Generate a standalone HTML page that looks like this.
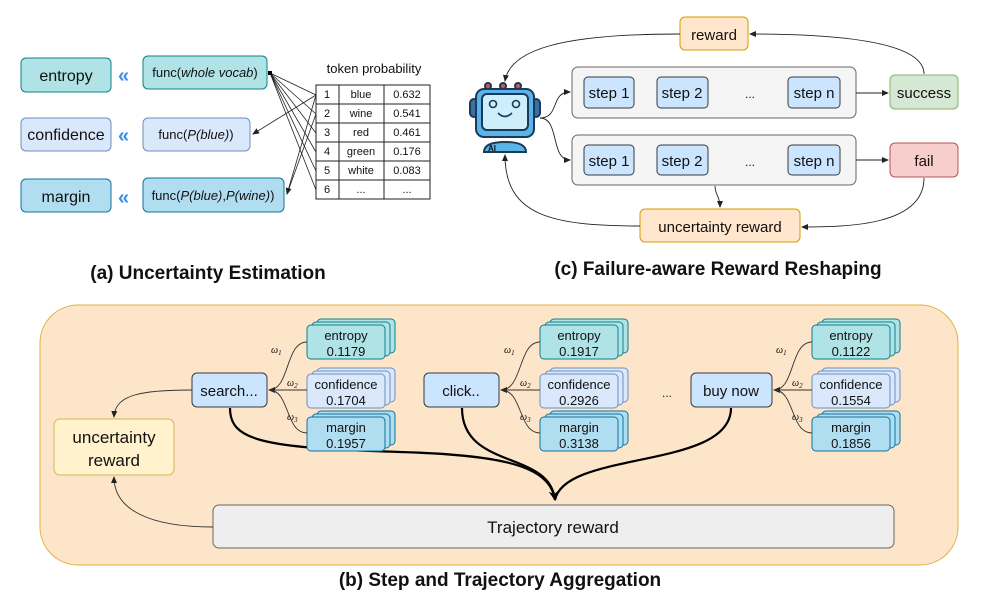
<!DOCTYPE html>
<html><head><meta charset="utf-8"><style>
html,body{margin:0;padding:0;background:#fff}
svg{display:block}
text{font-family:"Liberation Sans",sans-serif;fill:#111}
</style></head><body>
<svg width="996" height="616" viewBox="0 0 996 616" xmlns="http://www.w3.org/2000/svg">
<defs>
<marker id="a" markerWidth="8" markerHeight="8" refX="6" refY="3" orient="auto" markerUnits="userSpaceOnUse"><path d="M0,0 L7,3 L0,6 Z" fill="#222"/></marker>
<marker id="ab" markerWidth="14" markerHeight="14" refX="9" refY="5" orient="auto" markerUnits="userSpaceOnUse"><path d="M0,0 L10,5 L0,10 L3,5 Z" fill="#000"/></marker>
</defs>

<!-- (a) -->
<g font-size="16">
<rect x="21" y="58" width="90" height="34" rx="5" fill="#b0e3e6" stroke="#0e8088"/>
<text x="66" y="81" text-anchor="middle">entropy</text>
<rect x="21" y="118" width="90" height="33" rx="5" fill="#dae8fc" stroke="#6c8ebf"/>
<text x="66" y="140" text-anchor="middle">confidence</text>
<rect x="21" y="179" width="90" height="33" rx="5" fill="#b1ddf0" stroke="#10739e"/>
<text x="66" y="202" text-anchor="middle">margin</text>
</g>
<g font-size="20" font-weight="bold">
<text x="118" y="82" style="fill:#3a8fe8">«</text>
<text x="118" y="142" style="fill:#3a8fe8">«</text>
<text x="118" y="204" style="fill:#3a8fe8">«</text>
</g>
<g font-size="13">
<rect x="143" y="56" width="124" height="33" rx="5" fill="#b0e3e6" stroke="#0e8088"/>
<text x="205" y="77" text-anchor="middle">func(<tspan font-style="italic">whole vocab</tspan>)</text>
<rect x="143" y="118" width="107" height="33" rx="5" fill="#dae8fc" stroke="#6c8ebf"/>
<text x="196" y="139" text-anchor="middle">func(<tspan font-style="italic">P(blue)</tspan>)</text>
<rect x="143" y="178" width="141" height="34" rx="5" fill="#b1ddf0" stroke="#10739e"/>
<text x="213" y="200" text-anchor="middle">func(<tspan font-style="italic">P(blue)</tspan>,<tspan font-style="italic">P(wine)</tspan>)</text>
</g>
<text x="374" y="73" font-size="13" text-anchor="middle">token probability</text>
<g stroke="#222" stroke-width="1" fill="none">
<rect x="316" y="85" width="114" height="114" fill="#fff"/>
<line x1="339" y1="85" x2="339" y2="199"/><line x1="384" y1="85" x2="384" y2="199"/>
<line x1="316" y1="104" x2="430" y2="104"/><line x1="316" y1="123" x2="430" y2="123"/>
<line x1="316" y1="142" x2="430" y2="142"/><line x1="316" y1="161" x2="430" y2="161"/>
<line x1="316" y1="180" x2="430" y2="180"/>
</g>
<g font-size="11" text-anchor="middle">
<text x="327" y="98">1</text><text x="361" y="98">blue</text><text x="407" y="98">0.632</text>
<text x="327" y="117">2</text><text x="361" y="117">wine</text><text x="407" y="117">0.541</text>
<text x="327" y="136">3</text><text x="361" y="136">red</text><text x="407" y="136">0.461</text>
<text x="327" y="155">4</text><text x="361" y="155">green</text><text x="407" y="155">0.176</text>
<text x="327" y="174">5</text><text x="361" y="174">white</text><text x="407" y="174">0.083</text>
<text x="327" y="193">6</text><text x="361" y="193">...</text><text x="407" y="193">...</text>
</g>
<g stroke="#222" stroke-width="0.8" fill="none">
<line x1="270" y1="73" x2="316" y2="95"/><line x1="270" y1="73" x2="316" y2="114"/>
<line x1="270" y1="73" x2="316" y2="133"/><line x1="270" y1="73" x2="316" y2="152"/>
<line x1="270" y1="73" x2="316" y2="171"/><line x1="270" y1="73" x2="316" y2="190"/>
<line x1="316" y1="95" x2="253" y2="134" marker-end="url(#a)"/>
<line x1="316" y1="95" x2="287" y2="194" marker-end="url(#a)"/>
<line x1="316" y1="114" x2="287" y2="194"/>
</g>
<rect x="268" y="71" width="4" height="4" fill="#000"/>
<text x="208" y="279" font-size="19" font-weight="bold" text-anchor="middle">(a) Uncertainty Estimation</text>

<!-- (c) -->
<rect x="680" y="17" width="68" height="33" rx="5" fill="#ffe6cc" stroke="#d79b00"/>
<text x="714" y="40" font-size="15" text-anchor="middle">reward</text>
<rect x="572" y="67" width="284" height="51" rx="6" fill="#f5f5f5" stroke="#666"/>
<rect x="572" y="135" width="284" height="50" rx="6" fill="#f5f5f5" stroke="#666"/>
<g font-size="15" text-anchor="middle">
<rect x="584" y="77" width="50" height="31" rx="4" fill="#cce5ff" stroke="#36393d"/><text x="609" y="98">step 1</text>
<rect x="657" y="77" width="51" height="31" rx="4" fill="#cce5ff" stroke="#36393d"/><text x="682" y="98">step 2</text>
<text x="750" y="98" font-size="12">...</text>
<rect x="788" y="77" width="52" height="31" rx="4" fill="#cce5ff" stroke="#36393d"/><text x="814" y="98">step n</text>
<rect x="584" y="145" width="50" height="30" rx="4" fill="#cce5ff" stroke="#36393d"/><text x="609" y="166">step 1</text>
<rect x="657" y="145" width="51" height="30" rx="4" fill="#cce5ff" stroke="#36393d"/><text x="682" y="166">step 2</text>
<text x="750" y="166" font-size="12">...</text>
<rect x="788" y="145" width="52" height="30" rx="4" fill="#cce5ff" stroke="#36393d"/><text x="814" y="166">step n</text>
<rect x="890" y="75" width="68" height="34" rx="5" fill="#d5e8d4" stroke="#82b366"/><text x="924" y="98">success</text>
<rect x="890" y="143" width="68" height="34" rx="5" fill="#f8cecc" stroke="#b85450"/><text x="924" y="166">fail</text>
<rect x="640" y="209" width="160" height="33" rx="5" fill="#ffe6cc" stroke="#d79b00"/><text x="720" y="232">uncertainty reward</text>
</g>
<!-- robot -->
<g stroke="#1a3a5a" stroke-width="2">
<circle cx="488" cy="86" r="3" fill="#e05050"/><circle cx="503" cy="86" r="3" fill="#e05050"/><circle cx="518" cy="86" r="3" fill="#e05050"/>
<rect x="470" y="99" width="8" height="18" rx="4" fill="#3b6fa8"/><rect x="532" y="99" width="8" height="18" rx="4" fill="#3b6fa8"/>
<rect x="476" y="89" width="58" height="48" rx="8" fill="#5ab4e8"/>
<rect x="482" y="94" width="46" height="36" rx="5" fill="#cfeefb"/>
<path d="M484,152 Q484,142 505,142 Q526,142 526,152 Z" fill="#5ab4e8"/>
</g>
<circle cx="493" cy="104" r="3.5" fill="none" stroke="#1a3a5a" stroke-width="1.6"/>
<circle cx="516" cy="104" r="3.5" fill="none" stroke="#1a3a5a" stroke-width="1.6"/>
<path d="M498,113 Q505,120 512,113" fill="none" stroke="#1a3a5a" stroke-width="1.6"/>
<text x="488" y="151" font-size="8" font-weight="bold">AI</text>
<g stroke="#222" fill="none" stroke-width="0.9">
<path d="M540,118 C560,118 550,92 570,92" marker-end="url(#a)"/>
<path d="M540,118 C560,118 550,160 570,160" marker-end="url(#a)"/>
<line x1="856" y1="93" x2="888" y2="93" marker-end="url(#a)"/>
<line x1="856" y1="160" x2="888" y2="160" marker-end="url(#a)"/>
<path d="M924,74 C924,40 830,34 750,34" marker-end="url(#a)"/>
<path d="M680,34 C560,34 510,50 505,81" marker-end="url(#a)"/>
<path d="M924,178 C924,225 850,227 802,227" marker-end="url(#a)"/>
<path d="M640,226 C550,226 505,215 505,155" marker-end="url(#a)"/>
<path d="M715,186 C715,195 720,196 720,207" marker-end="url(#a)"/>
</g>
<text x="718" y="275" font-size="19" font-weight="bold" text-anchor="middle">(c) Failure-aware Reward Reshaping</text>

<!-- (b) -->
<rect x="40" y="305" width="918" height="260" rx="38" fill="#fde5c9" stroke="#e0b040"/>
<g stroke="#000" fill="none" stroke-width="2.2">
<path d="M230,408 C230,440 260,448 400,452 C500,455 550,465 555,500" marker-end="url(#ab)"/>
<path d="M462,408 C462,470 550,450 555,500"/>
<path d="M731,408 C731,470 565,450 555,500"/>
</g>
<g font-size="13" text-anchor="middle">
<g id="s1">
<rect x="317" y="319" width="78" height="34" rx="4" fill="#b0e3e6" stroke="#0e8088"/><rect x="312" y="322" width="78" height="34" rx="4" fill="#b0e3e6" stroke="#0e8088"/><rect x="307" y="325" width="78" height="34" rx="4" fill="#b0e3e6" stroke="#0e8088"/>
<rect x="317" y="368" width="78" height="34" rx="4" fill="#dae8fc" stroke="#6c8ebf"/><rect x="312" y="371" width="78" height="34" rx="4" fill="#dae8fc" stroke="#6c8ebf"/><rect x="307" y="374" width="78" height="34" rx="4" fill="#dae8fc" stroke="#6c8ebf"/>
<rect x="317" y="411" width="78" height="34" rx="4" fill="#b1ddf0" stroke="#10739e"/><rect x="312" y="414" width="78" height="34" rx="4" fill="#b1ddf0" stroke="#10739e"/><rect x="307" y="417" width="78" height="34" rx="4" fill="#b1ddf0" stroke="#10739e"/>
</g>
<use href="#s1" x="233"/>
<use href="#s1" x="505"/>
<text x="346" y="340">entropy</text><text x="346" y="356">0.1179</text>
<text x="346" y="389">confidence</text><text x="346" y="405">0.1704</text>
<text x="346" y="432">margin</text><text x="346" y="448">0.1957</text>
<text x="579" y="340">entropy</text><text x="579" y="356">0.1917</text>
<text x="579" y="389">confidence</text><text x="579" y="405">0.2926</text>
<text x="579" y="432">margin</text><text x="579" y="448">0.3138</text>
<text x="851" y="340">entropy</text><text x="851" y="356">0.1122</text>
<text x="851" y="389">confidence</text><text x="851" y="405">0.1554</text>
<text x="851" y="432">margin</text><text x="851" y="448">0.1856</text>
</g>
<g font-size="15" text-anchor="middle">
<rect x="192" y="373" width="75" height="34" rx="5" fill="#cce5ff" stroke="#36393d"/><text x="229" y="396">search...</text>
<rect x="424" y="373" width="75" height="34" rx="5" fill="#cce5ff" stroke="#36393d"/><text x="461" y="396">click..</text>
<rect x="691" y="373" width="81" height="34" rx="5" fill="#cce5ff" stroke="#36393d"/><text x="731" y="396">buy now</text>
<text x="667" y="397" font-size="12">...</text>
<rect x="54" y="419" width="120" height="56" rx="6" fill="#fff2cc" stroke="#d6b656"/>
<text x="114" y="443" font-size="17">uncertainty</text><text x="114" y="466" font-size="17">reward</text>
<rect x="213" y="505" width="681" height="43" rx="6" fill="#eeeeee" stroke="#666"/>
<text x="553" y="533" font-size="17">Trajectory reward</text>
</g>
<g font-size="10" font-style="italic">
<text x="271" y="353" style="font-family:'Liberation Serif'">ω<tspan font-size="7" dy="2">1</tspan></text>
<text x="287" y="386" style="font-family:'Liberation Serif'">ω<tspan font-size="7" dy="2">2</tspan></text>
<text x="287" y="420" style="font-family:'Liberation Serif'">ω<tspan font-size="7" dy="2">3</tspan></text>
<text x="504" y="353" style="font-family:'Liberation Serif'">ω<tspan font-size="7" dy="2">1</tspan></text>
<text x="520" y="386" style="font-family:'Liberation Serif'">ω<tspan font-size="7" dy="2">2</tspan></text>
<text x="520" y="420" style="font-family:'Liberation Serif'">ω<tspan font-size="7" dy="2">3</tspan></text>
<text x="776" y="353" style="font-family:'Liberation Serif'">ω<tspan font-size="7" dy="2">1</tspan></text>
<text x="792" y="386" style="font-family:'Liberation Serif'">ω<tspan font-size="7" dy="2">2</tspan></text>
<text x="792" y="420" style="font-family:'Liberation Serif'">ω<tspan font-size="7" dy="2">3</tspan></text>
</g>
<g stroke="#333" fill="none" stroke-width="0.9">
<path d="M307,342 C285,342 290,390 269,390" marker-end="url(#a)"/>
<line x1="307" y1="390" x2="269" y2="390"/>
<path d="M307,433 C285,433 290,390 269,390"/>
<path d="M540,342 C518,342 523,390 501,390" marker-end="url(#a)"/>
<line x1="540" y1="390" x2="501" y2="390"/>
<path d="M540,433 C518,433 523,390 501,390"/>
<path d="M812,342 C790,342 795,390 774,390" marker-end="url(#a)"/>
<line x1="812" y1="390" x2="774" y2="390"/>
<path d="M812,433 C790,433 795,390 774,390"/>
<path d="M192,390 C140,390 115,395 114,417" marker-end="url(#a)"/>
<path d="M213,527 C150,527 114,510 114,477" marker-end="url(#a)"/>
</g>
<text x="500" y="586" font-size="19" font-weight="bold" text-anchor="middle">(b) Step and Trajectory Aggregation</text>
</svg>
</body></html>
